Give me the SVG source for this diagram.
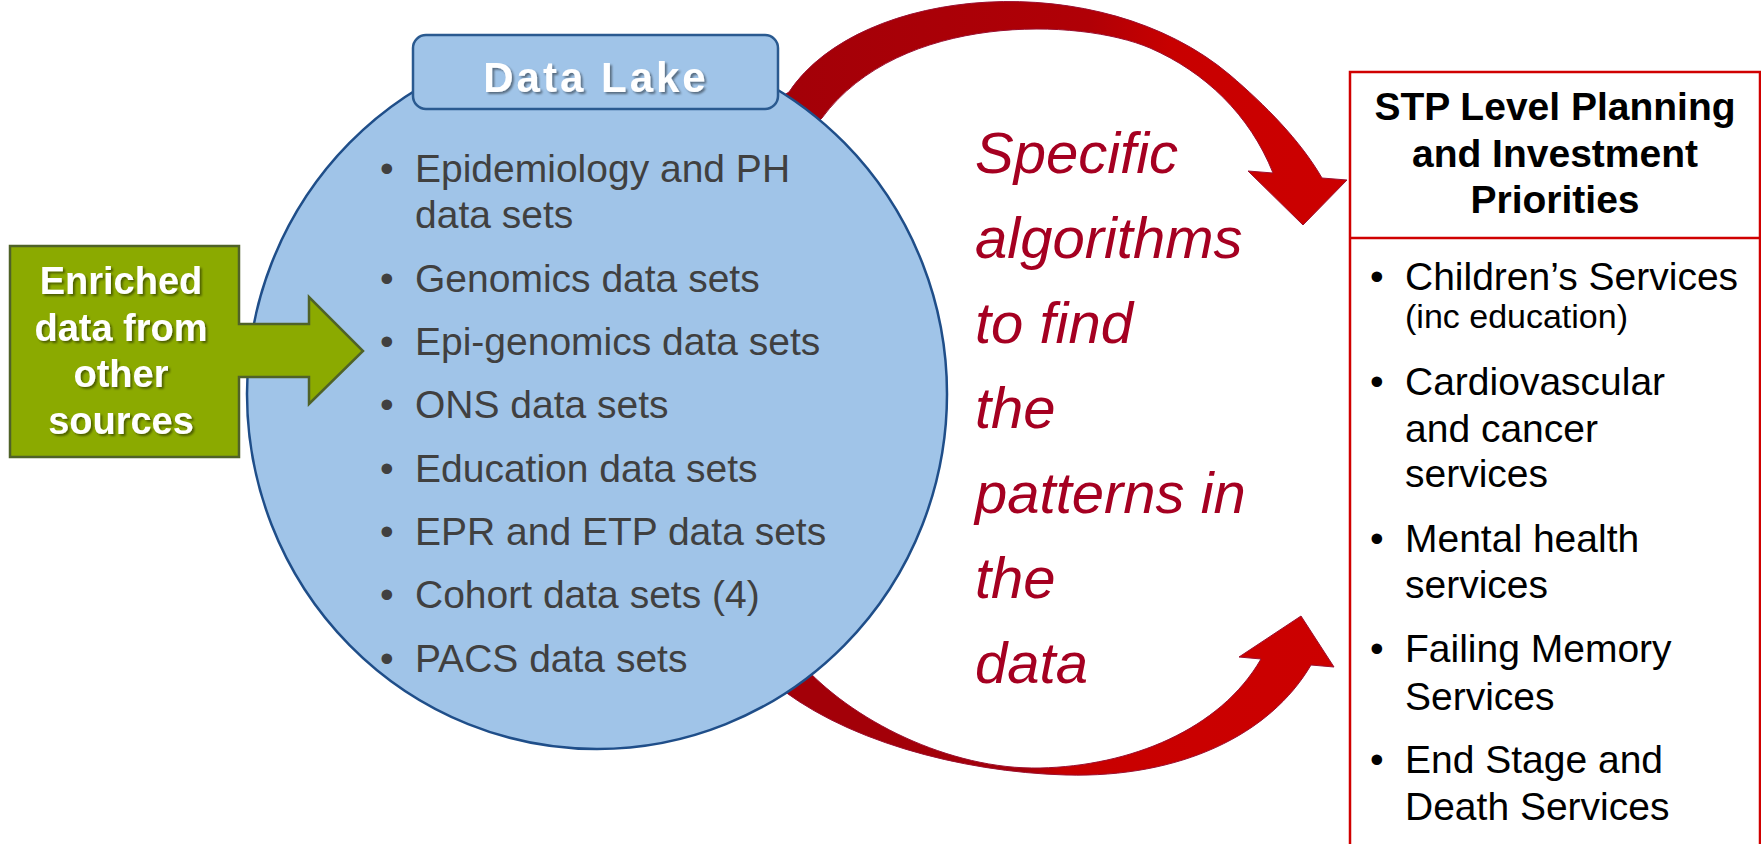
<svg xmlns="http://www.w3.org/2000/svg" width="1761" height="844" viewBox="0 0 1761 844">
<defs>
  <linearGradient id="gTop" x1="780" y1="0" x2="1340" y2="0" gradientUnits="userSpaceOnUse">
    <stop offset="0" stop-color="#A30008"/>
    <stop offset="0.55" stop-color="#B00006"/>
    <stop offset="0.7" stop-color="#C80000"/>
    <stop offset="1" stop-color="#CC0000"/>
  </linearGradient>
  <linearGradient id="gBot" x1="770" y1="0" x2="1334" y2="0" gradientUnits="userSpaceOnUse">
    <stop offset="0" stop-color="#A30008"/>
    <stop offset="0.45" stop-color="#A30008"/>
    <stop offset="0.52" stop-color="#C80000"/>
    <stop offset="1" stop-color="#CC0000"/>
  </linearGradient>
  <filter id="shadow" x="-10%" y="-10%" width="130%" height="140%">
    <feDropShadow dx="2" dy="2" stdDeviation="1.2" flood-color="#000" flood-opacity="0.45"/>
  </filter>
  <style>
    .bul { font-family: "Liberation Sans", Arial, sans-serif; font-size: 39px; fill: #404040; }
    .rbul { font-family: "Liberation Sans", Arial, sans-serif; font-size: 39px; fill: #000; }
    .small { font-family: "Liberation Sans", Arial, sans-serif; font-size: 34px; fill: #000; }
    .title { font-family: "Liberation Sans", Arial, sans-serif; font-size: 39px; font-weight: bold; fill: #000; text-anchor: middle; }
    .algo { font-family: "Liberation Sans", Arial, sans-serif; font-size: 58px; font-style: italic; fill: #A50021; }
    .white { font-family: "Liberation Sans", Arial, sans-serif; font-weight: bold; fill: #fff; text-anchor: middle; }
    .arrow { stroke: #9B1030; stroke-width: 1; }
  </style>
</defs>
<rect width="1761" height="844" fill="#fff"/>

<g id="connectors">
  <path id="arrow-top" class="arrow" fill="url(#gTop)" d="M 760,110 L 789,92 C 860,-15 1100,-35 1230,75 C 1265,105 1300,140 1322,178 L 1347,180 L 1303,225 L 1248,171 L 1273,173 C 1250,115 1205,72 1150,48 C 1080,18 900,12 822,118 L 800,140 Z"/>
  <path id="arrow-bottom" class="arrow" fill="url(#gBot)" d="M 800,662 C 850,720 950,770 1040,768 C 1130,766 1220,730 1261,659 L 1239,657 L 1301,616 L 1334,667 L 1311,665 C 1270,735 1180,778 1066,775 C 960,772 840,740 770,680 Z"/>
</g>

<g id="data-lake">
  <ellipse cx="597" cy="394" rx="350" ry="355" fill="#A0C4E8" stroke="#1F4E89" stroke-width="2.5"/>
  <rect x="413" y="35" width="365" height="74" rx="13" ry="13" fill="#A0C4E8" stroke="#2A5A90" stroke-width="2.5"/>
  <text class="white" x="596" y="92" font-size="42" letter-spacing="3" filter="url(#shadow)">Data Lake</text>
  <g class="bul">
    <text x="380" y="182">•</text><text x="415" y="182">Epidemiology and PH</text>
    <text x="415" y="228">data sets</text>
    <text x="380" y="292">•</text><text x="415" y="292">Genomics data sets</text>
    <text x="380" y="355">•</text><text x="415" y="355">Epi-genomics data sets</text>
    <text x="380" y="418">•</text><text x="415" y="418">ONS data sets</text>
    <text x="380" y="482">•</text><text x="415" y="482">Education data sets</text>
    <text x="380" y="545">•</text><text x="415" y="545">EPR and ETP data sets</text>
    <text x="380" y="608">•</text><text x="415" y="608">Cohort data sets (4)</text>
    <text x="380" y="672">•</text><text x="415" y="672">PACS data sets</text>
  </g>
</g>

<g id="enriched">
  <polygon points="10,246 239,246 239,324 309,324 309,297 363,351 309,404 309,377 239,377 239,457 10,457" fill="#8BAA00" stroke="#4F6228" stroke-width="2.5"/>
  <g filter="url(#shadow)">
    <text class="white" x="121" y="294" font-size="38">Enriched</text>
    <text class="white" x="121" y="341" font-size="38">data from</text>
    <text class="white" x="121" y="387" font-size="38">other</text>
    <text class="white" x="121" y="434" font-size="38">sources</text>
  </g>
</g>

<g id="algorithms">
  <text class="algo" x="975" y="173">Specific</text>
  <text class="algo" x="975" y="258">algorithms</text>
  <text class="algo" x="975" y="343">to find</text>
  <text class="algo" x="975" y="428">the</text>
  <text class="algo" x="975" y="513">patterns in</text>
  <text class="algo" x="975" y="598">the</text>
  <text class="algo" x="975" y="683">data</text>
</g>

<g id="stp">
  <rect x="1350" y="72" width="410" height="800" fill="#fff" stroke="#D00000" stroke-width="2.5"/>
  <line x1="1350" y1="238" x2="1760" y2="238" stroke="#D00000" stroke-width="2.5"/>
  <text class="title" x="1555" y="120">STP Level Planning</text>
  <text class="title" x="1555" y="167">and Investment</text>
  <text class="title" x="1555" y="213">Priorities</text>
  <g>
    <text class="rbul" x="1370" y="290">•</text><text class="rbul" x="1405" y="290">Children’s Services</text>
    <text class="small" x="1405" y="328">(inc education)</text>
    <text class="rbul" x="1370" y="395">•</text><text class="rbul" x="1405" y="395">Cardiovascular</text>
    <text class="rbul" x="1405" y="442">and cancer</text>
    <text class="rbul" x="1405" y="487">services</text>
    <text class="rbul" x="1370" y="552">•</text><text class="rbul" x="1405" y="552">Mental health</text>
    <text class="rbul" x="1405" y="598">services</text>
    <text class="rbul" x="1370" y="662">•</text><text class="rbul" x="1405" y="662">Failing Memory</text>
    <text class="rbul" x="1405" y="710">Services</text>
    <text class="rbul" x="1370" y="773">•</text><text class="rbul" x="1405" y="773">End Stage and</text>
    <text class="rbul" x="1405" y="820">Death Services</text>
  </g>
</g>
</svg>
